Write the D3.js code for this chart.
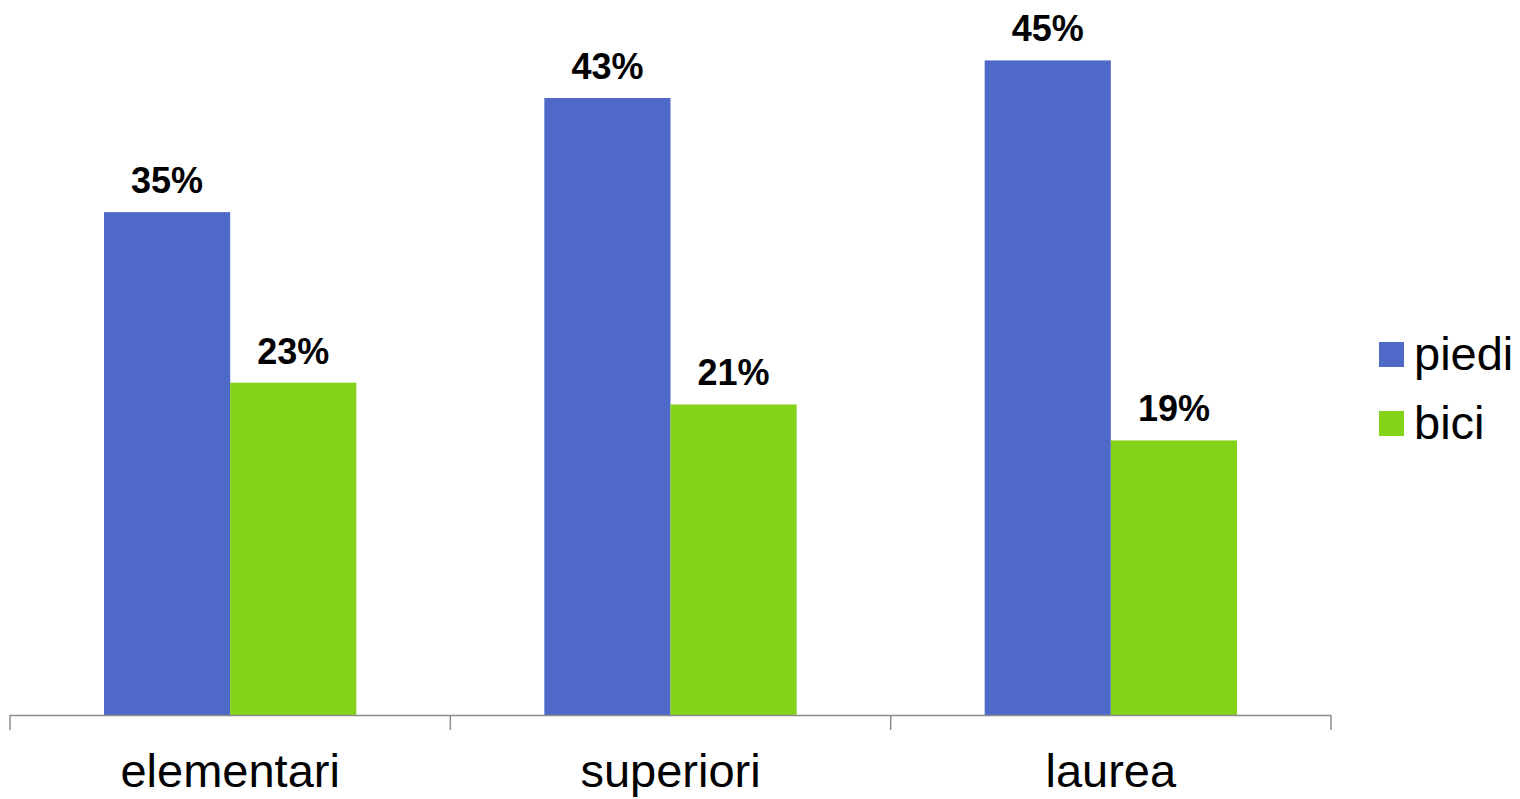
<!DOCTYPE html>
<html><head><meta charset="utf-8">
<script src="https://cdn.jsdelivr.net/npm/d3@7"></script>
<style>html,body{margin:0;padding:0;background:#fff;}svg{display:block;}</style>
</head><body>
<svg id="c" width="1520" height="799"></svg>
<script>
const categories = ["elementari", "superiori", "laurea"];
const seriesNames = ["piedi", "bici"];
const piedi = [34.8, 42.7, 45.3];
const bici = [23.0, 21.49, 19.0];
const colors = ["#4F69C8", "#82D31A"];

const svg = d3.select("#c");
const font = "'Liberation Sans', Arial, sans-serif";
const baseY = 715;
const x0 = d3.scaleBand().domain(categories).range([10, 1331]).paddingInner(0).paddingOuter(0);
const x1 = d3.scaleBand().domain(seriesNames).range([94, x0.bandwidth() - 94]);
const y = d3.scaleLinear().domain([0, 50]).range([baseY, baseY - 50 * 14.45]);

const data = categories.map((c, i) => ({cat: c, vals: [piedi[i], bici[i]]}));

const g = svg.append("g");
const groups = g.selectAll("g.grp").data(data).join("g")
  .attr("transform", d => `translate(${x0(d.cat)},0)`);
groups.selectAll("rect").data(d => d.vals.map((v, j) => ({s: seriesNames[j], v, j})))
  .join("rect")
  .attr("x", d => x1(d.s)).attr("width", x1.bandwidth())
  .attr("y", d => y(d.v)).attr("height", d => y(0) - y(d.v))
  .attr("fill", d => colors[d.j]);
groups.selectAll("text.lbl").data(d => d.vals.map((v, j) => ({s: seriesNames[j], v, j})))
  .join("text").attr("class", "lbl")
  .attr("x", d => x1(d.s) + x1.bandwidth() / 2)
  .attr("y", d => y(d.v) - 19)
  .attr("text-anchor", "middle")
  .style("font-family", font).style("font-weight", "bold").style("font-size", "36px")
  .text(d => Math.round(d.v) + "%");

// x axis
const ax = svg.append("g").attr("transform", `translate(0,${baseY})`);
ax.append("line").attr("x1", 10).attr("x2", 1331).attr("y1", 0.5).attr("y2", 0.5)
  .attr("stroke", "#8c8c8c").attr("stroke-width", 1.5);
const tickPos = categories.map(c => x0(c)).concat([x0.range()[1]]);
ax.selectAll("line.tk").data(tickPos).join("line").attr("class", "tk")
  .attr("x1", d => d).attr("x2", d => d).attr("y1", 0).attr("y2", 15)
  .attr("stroke", "#8c8c8c").attr("stroke-width", 1.5);
ax.selectAll("text.cat").data(categories).join("text").attr("class", "cat")
  .attr("x", d => x0(d) + x0.bandwidth() / 2).attr("y", 72)
  .attr("text-anchor", "middle")
  .style("font-family", font).style("font-size", "47px").attr("fill", "#000")
  .text(d => d);

// legend
const leg = svg.append("g").attr("transform", "translate(1379,342)");
const li = leg.selectAll("g").data(seriesNames).join("g")
  .attr("transform", (d, i) => `translate(0,${i * 69})`);
li.append("rect").attr("width", 25).attr("height", 25).attr("fill", (d, i) => colors[i]);
li.append("text").attr("x", 35).attr("y", 28)
  .style("font-family", font).style("font-size", "47px").text(d => d);
</script>
</body></html>
